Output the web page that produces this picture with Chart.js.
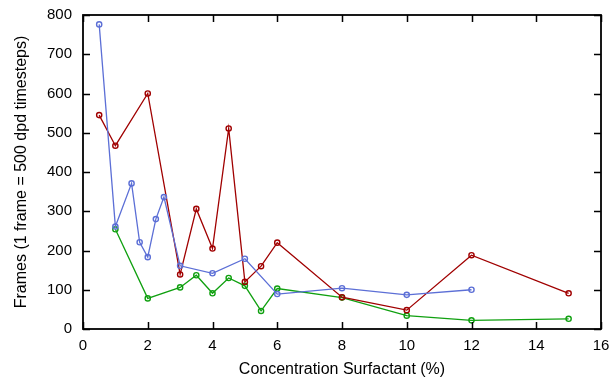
<!DOCTYPE html>
<html>
<head>
<meta charset="utf-8">
<script src="https://cdn.jsdelivr.net/npm/chart.js@4"></script>
<style>
  html, body { margin: 0; padding: 0; background: #fff; }
  #wrap { width: 615px; height: 379px; }
</style>
</head>
<body>
<div id="wrap"><canvas id="chart" width="615" height="379"></canvas></div>
<script>
// ===== Data =====
const blueX = [0.5, 1, 1.5, 1.75, 2, 2.25, 2.5, 3, 4, 5, 6, 8, 10, 12];
const blueY = [776, 261, 371, 221, 183, 280, 336, 161, 142, 179, 89, 104, 87, 100];

const redX = [0.5, 1, 2, 3, 3.5, 4, 4.5, 5, 5.5, 6, 8, 10, 12, 15];
const redY = [545, 467, 600, 139, 306, 205, 511, 120, 160, 220, 81, 48, 188, 91];

const greenX = [1, 2, 3, 3.5, 4, 4.5, 5, 5.5, 6, 8, 10, 12, 15];
const greenY = [254, 78, 106, 137, 91, 130, 110, 46, 103, 80, 34, 22, 26];

const xTicks = [0, 2, 4, 6, 8, 10, 12, 14, 16];
const yTicks = [0, 100, 200, 300, 400, 500, 600, 700, 800];

const FONT = 'Liberation Sans, Arial, Helvetica, sans-serif';

function pts(xs, ys) {
  return xs.map((x, i) => ({ x, y: ys[i] }));
}

function series(label, xs, ys, color) {
  return {
    label,
    data: pts(xs, ys),
    borderColor: color,
    backgroundColor: 'rgba(255,255,255,0)',
    borderWidth: 1.3,
    pointRadius: 2.6,
    pointBorderWidth: 1.4,
    pointBackgroundColor: 'rgba(255,255,255,0)',
    pointBorderColor: color,
    tension: 0,
  };
}

// ===== Frame + inward ticks (gnuplot look) =====
const framePlugin = {
  id: 'frame',
  afterDraw(chart) {
    const { ctx, chartArea: a, scales } = chart;
    const len = 7;
    ctx.save();
    ctx.strokeStyle = '#000';
    ctx.lineWidth = 1.5;
    ctx.beginPath();
    xTicks.forEach((v) => {
      const px = Math.round(scales.x.getPixelForValue(v)) + 0.5;
      ctx.moveTo(px, a.bottom); ctx.lineTo(px, a.bottom - len);
      ctx.moveTo(px, a.top); ctx.lineTo(px, a.top + len);
    });
    yTicks.forEach((v) => {
      const py = Math.round(scales.y.getPixelForValue(v)) + 0.5;
      ctx.moveTo(a.left, py); ctx.lineTo(a.left + len, py);
      ctx.moveTo(a.right, py); ctx.lineTo(a.right - len, py);
    });
    ctx.stroke();
    ctx.lineWidth = 1.8;
    ctx.strokeRect(a.left, a.top, a.right - a.left, a.bottom - a.top);
    ctx.restore();
  },
};

const ctx = document.getElementById('chart').getContext('2d');
new Chart(ctx, {
  type: 'line',
  data: {
    datasets: [
      series('blue', blueX, blueY, '#5c6fd6'),
      series('red', redX, redY, '#a00000'),
      series('green', greenX, greenY, '#10a010'),
    ],
  },
  options: {
    responsive: false,
    animation: false,
    layout: { padding: { top: 15, right: 14, left: 0, bottom: 0 } },
    plugins: { legend: { display: false }, tooltip: { enabled: false } },
    scales: {
      x: {
        type: 'linear',
        min: 0, max: 16,
        afterFit: (s) => { s.height = 50; s.paddingLeft = 0; s.paddingRight = 0; },
        afterBuildTicks: (s) => { s.ticks = xTicks.map((v) => ({ value: v })); },
        grid: { display: false, drawTicks: false },
        border: { display: false },
        ticks: { color: '#000', font: { family: FONT, size: 15 }, padding: 8, maxRotation: 0 },
        title: { display: true, text: 'Concentration Surfactant (%)', color: '#000', font: { family: FONT, size: 16 }, padding: { top: 0, bottom: 0 } },
      },
      y: {
        type: 'linear',
        min: 0, max: 800,
        afterFit: (s) => { s.width = 83; s.paddingTop = 0; s.paddingBottom = 0; },
        afterBuildTicks: (s) => { s.ticks = yTicks.map((v) => ({ value: v })); },
        grid: { display: false, drawTicks: false },
        border: { display: false },
        ticks: { color: '#000', font: { family: FONT, size: 15 }, padding: 11 },
        title: { display: true, text: 'Frames (1 frame = 500 dpd timesteps)', color: '#000', font: { family: FONT, size: 16 }, padding: { top: 12 } },
      },
    },
  },
  plugins: [framePlugin],
});
</script>
</body>
</html>
